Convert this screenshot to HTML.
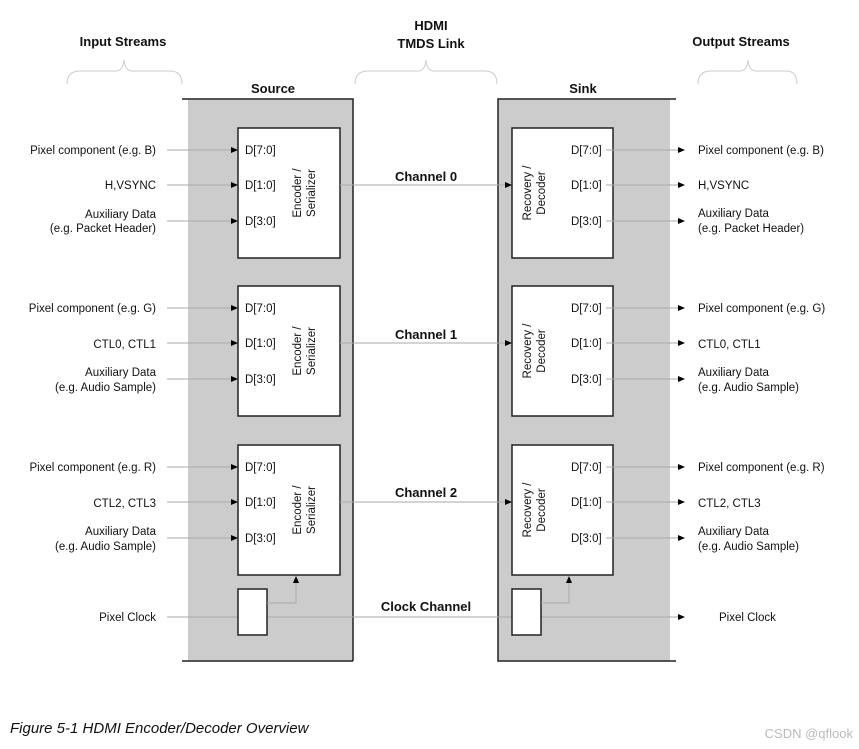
<!DOCTYPE html>
<html><head><meta charset="utf-8"><style>
html,body{margin:0;padding:0;background:#fff;}
svg{display:block;font-family:"Liberation Sans",Arial,sans-serif;}
.t{font-size:11.5px;fill:#111;}
.b{font-size:13px;font-weight:bold;fill:#111;}
.ln{stroke:#aaa;stroke-width:1;fill:none;}
.bx{fill:#fff;stroke:#222;stroke-width:1.5;}
.br{stroke:#ccc;stroke-width:1;fill:none;}
</style></head><body>
<svg width="859" height="749" viewBox="0 0 859 749">
<!-- headers -->
<text class="b" x="123" y="46" text-anchor="middle">Input Streams</text>
<text class="b" x="431" y="30" text-anchor="middle">HDMI</text>
<text class="b" x="431" y="48" text-anchor="middle">TMDS Link</text>
<text class="b" x="741" y="46" text-anchor="middle">Output Streams</text>
<path class="br" d="M67,84 Q67,71 80,71 L116,71 Q123,71 124,60 Q125,71 132,71 L170,71 Q182,71 182,84"/>
<path class="br" d="M355,84 Q355,71 368,71 L418,71 Q425,71 426,60 Q427,71 434,71 L485,71 Q497,71 497,84"/>
<path class="br" d="M698,84 Q698,71 711,71 L740,71 Q747,71 748,60 Q749,71 756,71 L786,71 Q797,71 797,84"/>
<!-- panels -->
<rect x="188" y="99" width="165" height="562" fill="#cccccc"/>
<path d="M182,99 L353,99 L353,661 M182,661 L353,661" stroke="#222" stroke-width="1.5" fill="none"/>
<text class="b" x="273" y="93" text-anchor="middle">Source</text>
<rect x="498" y="99" width="172" height="562" fill="#cccccc"/>
<path d="M676,99 L498,99 L498,661 L676,661" stroke="#222" stroke-width="1.5" fill="none"/>
<text class="b" x="583" y="93" text-anchor="middle">Sink</text>

<defs>
<g id="ch">
<rect class="bx" x="238" y="128" width="102" height="130"/>
<rect class="bx" x="512" y="128" width="101" height="130"/>
<path class="ln" d="M167,150H233M167,185H233M167,221H233M340,185H506M606,150H678M606,185H678M606,221H678"/>
<polygon points="231,147 238,150 231,153"/>
<polygon points="231,182 238,185 231,188"/>
<polygon points="231,218 238,221 231,224"/>
<polygon points="505,182 512,185 505,188"/>
<polygon points="678,147 685,150 678,153"/>
<polygon points="678,182 685,185 678,188"/>
<polygon points="678,218 685,221 678,224"/>
<text class="t" x="245" y="154">D[7:0]</text>
<text class="t" x="245" y="189">D[1:0]</text>
<text class="t" x="245" y="225">D[3:0]</text>
<text class="t" x="571" y="154">D[7:0]</text>
<text class="t" x="571" y="189">D[1:0]</text>
<text class="t" x="571" y="225">D[3:0]</text>
<text class="t" transform="translate(301,193) rotate(-90)" text-anchor="middle">Encoder /</text>
<text class="t" transform="translate(315,193) rotate(-90)" text-anchor="middle">Serializer</text>
<text class="t" transform="translate(531,193) rotate(-90)" text-anchor="middle">Recovery /</text>
<text class="t" transform="translate(545,193) rotate(-90)" text-anchor="middle">Decoder</text>
</g>
</defs>
<use href="#ch"/>
<use href="#ch" transform="translate(0,158)"/>
<use href="#ch" transform="translate(0,317)"/>

<text class="b" x="426" y="181" text-anchor="middle">Channel 0</text>
<text class="b" x="426" y="339" text-anchor="middle">Channel 1</text>
<text class="b" x="426" y="497" text-anchor="middle">Channel 2</text>
<text class="b" x="426" y="611" text-anchor="middle">Clock Channel</text>

<g class="t" text-anchor="end">
<text x="156" y="154">Pixel component (e.g. B)</text>
<text x="156" y="189">H,VSYNC</text>
<text x="156" y="218">Auxiliary Data</text>
<text x="156" y="232">(e.g. Packet Header)</text>
<text x="156" y="312">Pixel component (e.g. G)</text>
<text x="156" y="348">CTL0, CTL1</text>
<text x="156" y="376">Auxiliary Data</text>
<text x="156" y="391">(e.g. Audio Sample)</text>
<text x="156" y="471">Pixel component (e.g. R)</text>
<text x="156" y="507">CTL2, CTL3</text>
<text x="156" y="535">Auxiliary Data</text>
<text x="156" y="550">(e.g. Audio Sample)</text>
<text x="156" y="621">Pixel Clock</text>
</g>
<g class="t">
<text x="698" y="154">Pixel component (e.g. B)</text>
<text x="698" y="189">H,VSYNC</text>
<text x="698" y="217">Auxiliary Data</text>
<text x="698" y="232">(e.g. Packet Header)</text>
<text x="698" y="312">Pixel component (e.g. G)</text>
<text x="698" y="348">CTL0, CTL1</text>
<text x="698" y="376">Auxiliary Data</text>
<text x="698" y="391">(e.g. Audio Sample)</text>
<text x="698" y="471">Pixel component (e.g. R)</text>
<text x="698" y="507">CTL2, CTL3</text>
<text x="698" y="535">Auxiliary Data</text>
<text x="698" y="550">(e.g. Audio Sample)</text>
<text x="719" y="621">Pixel Clock</text>
</g>

<!-- clock -->
<path class="ln" d="M167,617H678"/>
<polygon points="678,614 685,617 678,620"/>
<rect class="bx" x="238" y="589" width="29" height="46"/>
<rect class="bx" x="512" y="589" width="29" height="46"/>
<path class="ln" d="M267,603H296V581M541,603H569V581"/>
<polygon points="293,583 296,576 299,583"/>
<polygon points="566,583 569,576 572,583"/>

<text x="10" y="733" font-size="15" font-style="italic" fill="#111">Figure 5-1 HDMI Encoder/Decoder Overview</text>
<text x="853" y="738" font-size="13" fill="#bbb" text-anchor="end">CSDN @qflook</text>
</svg>
</body></html>
